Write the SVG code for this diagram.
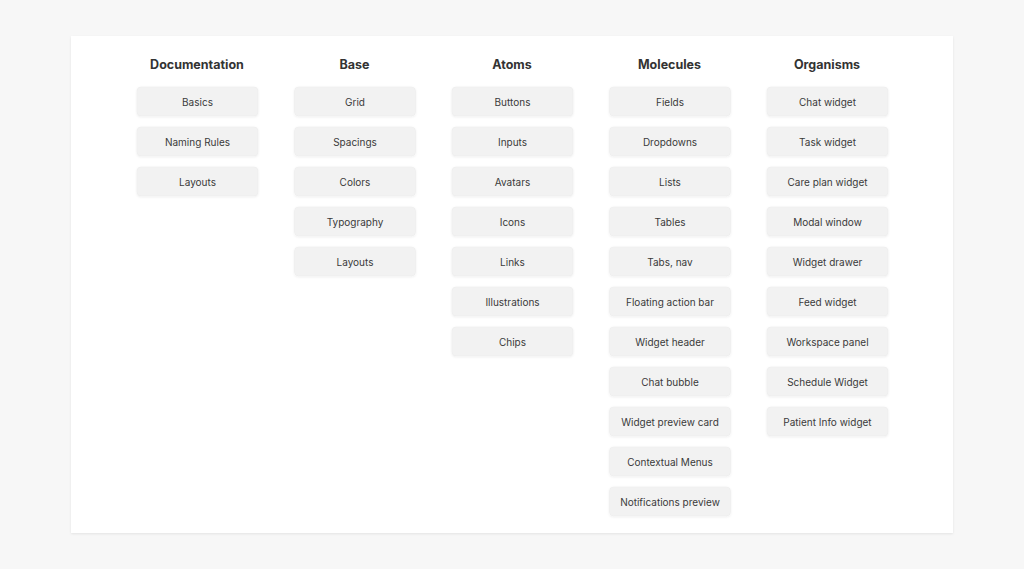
<svg xmlns="http://www.w3.org/2000/svg" width="1024" height="569" viewBox="0 0 1024 569">
<defs>
<filter id="sh" x="-5%" y="-5%" width="110%" height="110%"><feDropShadow dx="0" dy="1" stdDeviation="1.2" flood-color="#000" flood-opacity="0.08"/></filter>
<filter id="bs" x="-10%" y="-20%" width="120%" height="150%"><feDropShadow dx="0" dy="0.8" stdDeviation="0.8" flood-color="#000" flood-opacity="0.07"/></filter>
</defs>
<style>
.h{font-family:Inter,"Liberation Sans",sans-serif;font-size:12.5px;font-weight:700;fill:#333;text-anchor:middle}
.b{fill:#f2f2f2;stroke:#ececec;stroke-width:0.6;filter:url(#bs)}
.t{font-family:Inter,"Liberation Sans",sans-serif;font-size:10px;fill:#3a3a3a;text-anchor:middle}
</style>
<rect width="1024" height="569" fill="#f7f7f7"/>
<rect x="71" y="36" width="882" height="497" fill="#fff" filter="url(#sh)"/>
<g id="col-documentation">
<text class="h" x="197" y="69">Documentation</text>
<g id="doc-basics"><rect class="b" x="137" y="87" width="121" height="29" rx="4"/><text class="t" x="197.5" y="105.5">Basics</text></g>
<g id="doc-naming"><rect class="b" x="137" y="127" width="121" height="29" rx="4"/><text class="t" x="197.5" y="145.5">Naming Rules</text></g>
<g id="doc-layouts"><rect class="b" x="137" y="167" width="121" height="29" rx="4"/><text class="t" x="197.5" y="185.5">Layouts</text></g>
</g>
<g id="col-base">
<text class="h" x="354.5" y="69">Base</text>
<g id="base-grid"><rect class="b" x="294.5" y="87" width="121" height="29" rx="4"/><text class="t" x="355" y="105.5">Grid</text></g>
<g id="base-spacings"><rect class="b" x="294.5" y="127" width="121" height="29" rx="4"/><text class="t" x="355" y="145.5">Spacings</text></g>
<g id="base-colors"><rect class="b" x="294.5" y="167" width="121" height="29" rx="4"/><text class="t" x="355" y="185.5">Colors</text></g>
<g id="base-typography"><rect class="b" x="294.5" y="207" width="121" height="29" rx="4"/><text class="t" x="355" y="225.5">Typography</text></g>
<g id="base-layouts"><rect class="b" x="294.5" y="247" width="121" height="29" rx="4"/><text class="t" x="355" y="265.5">Layouts</text></g>
</g>
<g id="col-atoms">
<text class="h" x="512" y="69">Atoms</text>
<g id="atoms-buttons"><rect class="b" x="452" y="87" width="121" height="29" rx="4"/><text class="t" x="512.5" y="105.5">Buttons</text></g>
<g id="atoms-inputs"><rect class="b" x="452" y="127" width="121" height="29" rx="4"/><text class="t" x="512.5" y="145.5">Inputs</text></g>
<g id="atoms-avatars"><rect class="b" x="452" y="167" width="121" height="29" rx="4"/><text class="t" x="512.5" y="185.5">Avatars</text></g>
<g id="atoms-icons"><rect class="b" x="452" y="207" width="121" height="29" rx="4"/><text class="t" x="512.5" y="225.5">Icons</text></g>
<g id="atoms-links"><rect class="b" x="452" y="247" width="121" height="29" rx="4"/><text class="t" x="512.5" y="265.5">Links</text></g>
<g id="atoms-illustrations"><rect class="b" x="452" y="287" width="121" height="29" rx="4"/><text class="t" x="512.5" y="305.5">Illustrations</text></g>
<g id="atoms-chips"><rect class="b" x="452" y="327" width="121" height="29" rx="4"/><text class="t" x="512.5" y="345.5">Chips</text></g>
</g>
<g id="col-molecules">
<text class="h" x="669.5" y="69">Molecules</text>
<g id="mol-fields"><rect class="b" x="609.5" y="87" width="121" height="29" rx="4"/><text class="t" x="670" y="105.5">Fields</text></g>
<g id="mol-dropdowns"><rect class="b" x="609.5" y="127" width="121" height="29" rx="4"/><text class="t" x="670" y="145.5">Dropdowns</text></g>
<g id="mol-lists"><rect class="b" x="609.5" y="167" width="121" height="29" rx="4"/><text class="t" x="670" y="185.5">Lists</text></g>
<g id="mol-tables"><rect class="b" x="609.5" y="207" width="121" height="29" rx="4"/><text class="t" x="670" y="225.5">Tables</text></g>
<g id="mol-tabs"><rect class="b" x="609.5" y="247" width="121" height="29" rx="4"/><text class="t" x="670" y="265.5">Tabs, nav</text></g>
<g id="mol-fab"><rect class="b" x="609.5" y="287" width="121" height="29" rx="4"/><text class="t" x="670" y="305.5">Floating action bar</text></g>
<g id="mol-wheader"><rect class="b" x="609.5" y="327" width="121" height="29" rx="4"/><text class="t" x="670" y="345.5">Widget header</text></g>
<g id="mol-chatbubble"><rect class="b" x="609.5" y="367" width="121" height="29" rx="4"/><text class="t" x="670" y="385.5">Chat bubble</text></g>
<g id="mol-wpreview"><rect class="b" x="609.5" y="407" width="121" height="29" rx="4"/><text class="t" x="670" y="425.5">Widget preview card</text></g>
<g id="mol-ctxmenus"><rect class="b" x="609.5" y="447" width="121" height="29" rx="4"/><text class="t" x="670" y="465.5">Contextual Menus</text></g>
<g id="mol-notif"><rect class="b" x="609.5" y="487" width="121" height="29" rx="4"/><text class="t" x="670" y="505.5">Notifications preview</text></g>
</g>
<g id="col-organisms">
<text class="h" x="827" y="69">Organisms</text>
<g id="org-chat"><rect class="b" x="767" y="87" width="121" height="29" rx="4"/><text class="t" x="827.5" y="105.5">Chat widget</text></g>
<g id="org-task"><rect class="b" x="767" y="127" width="121" height="29" rx="4"/><text class="t" x="827.5" y="145.5">Task widget</text></g>
<g id="org-careplan"><rect class="b" x="767" y="167" width="121" height="29" rx="4"/><text class="t" x="827.5" y="185.5">Care plan widget</text></g>
<g id="org-modal"><rect class="b" x="767" y="207" width="121" height="29" rx="4"/><text class="t" x="827.5" y="225.5">Modal window</text></g>
<g id="org-drawer"><rect class="b" x="767" y="247" width="121" height="29" rx="4"/><text class="t" x="827.5" y="265.5">Widget drawer</text></g>
<g id="org-feed"><rect class="b" x="767" y="287" width="121" height="29" rx="4"/><text class="t" x="827.5" y="305.5">Feed widget</text></g>
<g id="org-workspace"><rect class="b" x="767" y="327" width="121" height="29" rx="4"/><text class="t" x="827.5" y="345.5">Workspace panel</text></g>
<g id="org-schedule"><rect class="b" x="767" y="367" width="121" height="29" rx="4"/><text class="t" x="827.5" y="385.5">Schedule Widget</text></g>
<g id="org-patient"><rect class="b" x="767" y="407" width="121" height="29" rx="4"/><text class="t" x="827.5" y="425.5">Patient Info widget</text></g>
</g>
<g id="connectors"></g>
</svg>
